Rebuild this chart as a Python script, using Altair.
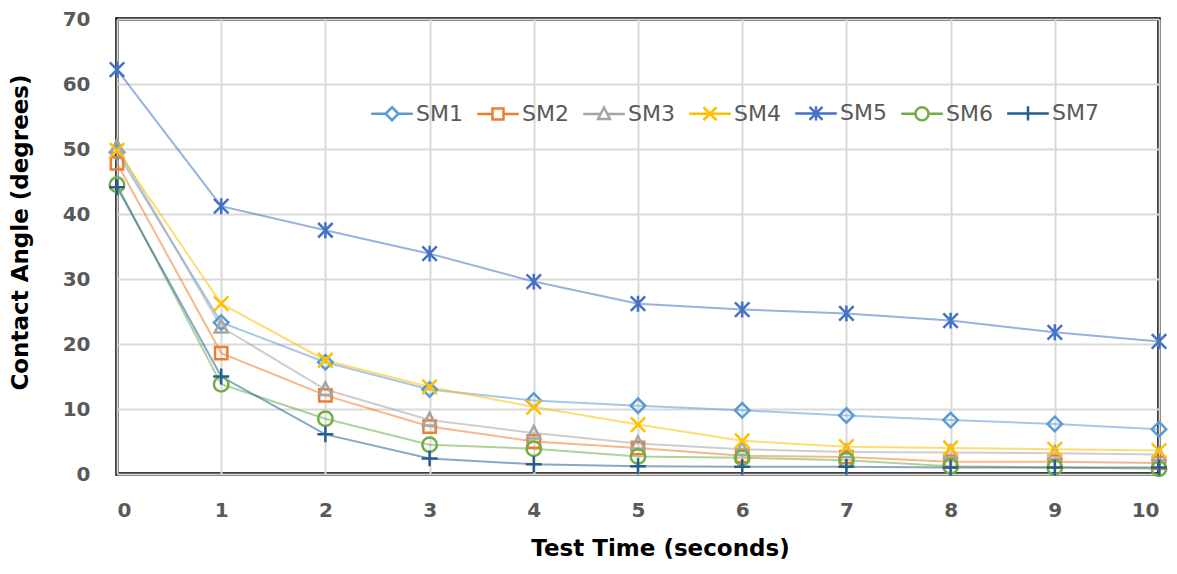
import altair as alt
import pandas as pd

times = list(range(11))
series = ["SM1", "SM2", "SM3", "SM4", "SM5", "SM6", "SM7"]

sm1 = [49.5, 23.3, 17.2, 13.0, 11.3, 10.5, 9.8, 9.0, 8.3, 7.7, 6.9]
sm2 = [47.8, 18.6, 12.1, 7.3, 5.0, 4.0, 2.8, 2.6, 1.9, 1.9, 1.7]
sm3 = [50.3, 22.6, 13.0, 8.3, 6.3, 4.7, 3.8, 3.4, 3.3, 3.2, 3.0]
sm4 = [49.8, 26.2, 17.5, 13.4, 10.3, 7.6, 5.1, 4.2, 4.0, 3.8, 3.6]
sm5 = [62.2, 41.2, 37.5, 33.9, 29.6, 26.2, 25.3, 24.7, 23.6, 21.8, 20.4]
sm6 = [44.5, 13.8, 8.5, 4.5, 3.9, 2.7, 2.5, 2.1, 1.2, 1.0, 0.8]
sm7 = [44.1, 15.0, 6.1, 2.4, 1.5, 1.2, 1.1, 1.1, 1.0, 1.0, 1.0]

colors = ["#5B9BD5", "#ED7D31", "#A5A5A5", "#FFC000", "#4472C4", "#70AD47", "#255E91"]

marker_paths = [
    "M0,-1L1,0L0,1L-1,0Z",
    "M-0.85,-0.85L0.85,-0.85L0.85,0.85L-0.85,0.85Z",
    "M0,-1L0.9,0.75L-0.9,0.75Z",
    "M-1,-1L1,1M-1,1L1,-1",
    "M-1,-1L1,1M-1,1L1,-1M0,-1.1L0,1.1",
    "M-1,0A1,1,0,1,1,1,0A1,1,0,1,1,-1,0Z",
    "M-1.1,0L1.1,0M0,-1.1L0,1.1",
]
legend_paths = [
    "M-3.2,0L-1,0M1,0L3.2,0M0,-1L1,0L0,1L-1,0Z",
    "M-3.2,0L-0.85,0M0.85,0L3.2,0M-0.85,-0.85L0.85,-0.85L0.85,0.85L-0.85,0.85Z",
    "M-3.2,0L-0.5,0M0.5,0L3.2,0M0,-1L0.9,0.75L-0.9,0.75Z",
    "M-3.2,0L3.2,0M-1,-1L1,1M-1,1L1,-1",
    "M-3.2,0L3.2,0M-1,-1L1,1M-1,1L1,-1M0,-1.1L0,1.1",
    "M-3.2,0L-1,0M1,0L3.2,0M-1,0A1,1,0,1,1,1,0A1,1,0,1,1,-1,0Z",
    "M-3.2,0L3.2,0M0,-1.1L0,1.1",
]

rows = []
for name, vals in zip(series, [sm1, sm2, sm3, sm4, sm5, sm6, sm7]):
    for t, v in zip(times, vals):
        rows.append({"time": t, "angle": v, "series": name})
df = pd.DataFrame(rows)

x = alt.X(
    "time:Q",
    scale=alt.Scale(domain=[0, 10], nice=False, zero=False),
    axis=alt.Axis(values=times, title="Test Time (seconds)", labelPadding=26,
                  titleX=543, titleY=63, titleAlign="center", titleBaseline="top"),
)
y = alt.Y(
    "angle:Q",
    scale=alt.Scale(domain=[0, 70], nice=False),
    axis=alt.Axis(values=list(range(0, 71, 10)), title="Contact Angle (degrees)",
                  labelPadding=27, titleX=-97, titleY=213, titleAngle=270,
                  titleAlign="center", titleBaseline="middle"),
)
color_plain = alt.Color("series:N", scale=alt.Scale(domain=series, range=colors), legend=None)

leg = alt.Legend(
    orient="none", legendX=264, legendY=83, direction="horizontal", columns=7,
    title=None, labelFont="DejaVu Sans", labelFontSize=22, labelColor="#595959",
    symbolSize=169, symbolStrokeWidth=2.5, labelOffset=13, columnPadding=9, padding=0,
)

lines = alt.Chart(df).mark_line(strokeWidth=2, opacity=0.55).encode(
    x=x, y=y, color=color_plain
)
points = alt.Chart(df).mark_point(filled=False, strokeWidth=2.5, size=210, opacity=1).encode(
    x=x, y=y, color=color_plain,
    shape=alt.Shape("series:N", scale=alt.Scale(domain=series, range=marker_paths), legend=None),
)
legend_layer = alt.Chart(df).transform_filter("false").mark_point(
    filled=False, strokeWidth=2.5, opacity=1
).encode(
    x=x, y=y,
    color=alt.Color("series:N", scale=alt.Scale(domain=series, range=colors), legend=leg),
    shape=alt.Shape("series:N", scale=alt.Scale(domain=series, range=legend_paths), legend=leg),
)

chart = alt.layer(lines, points, legend_layer).resolve_scale(
    color="independent", shape="independent"
).properties(
    width=1042, height=455,
    autosize=alt.AutoSizeParams(type="none"),
    padding={"left": 109, "top": 11, "right": 10, "bottom": 90},
).configure_view(
    stroke="black", strokeWidth=3.5
).configure_axis(
    grid=True, gridColor="#D9D9D9", gridWidth=2, domain=False, ticks=False, tickSize=0,
    labelFont="DejaVu Sans", labelFontWeight="bold", labelFontSize=20, labelColor="#595959",
    titleFont="DejaVu Sans", titleFontWeight="bold", titleFontSize=23, titleColor="black",
)

chart.save("out.html", embed_options={"renderer": "svg", "actions": False})
